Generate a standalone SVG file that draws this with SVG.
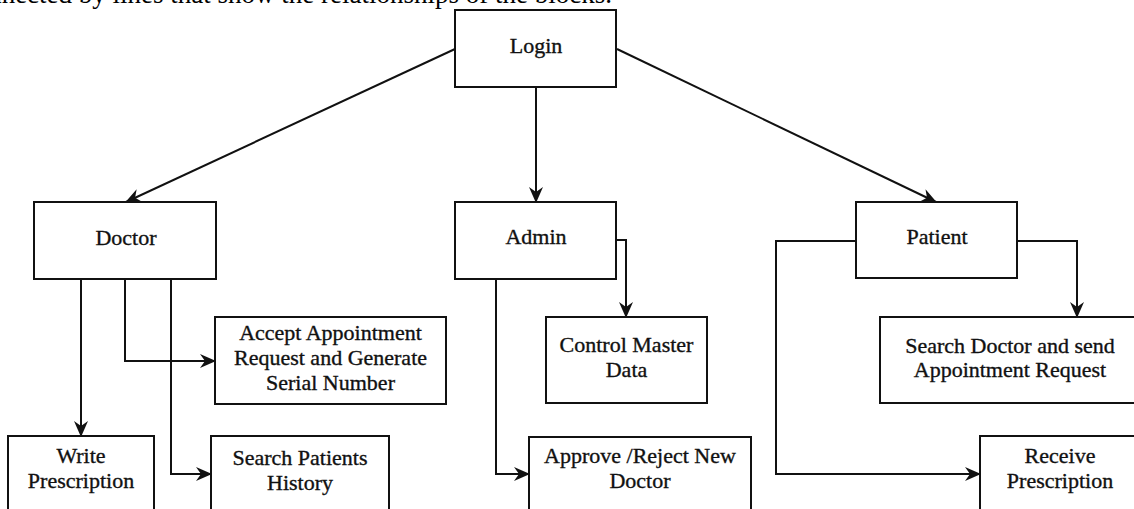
<svg xmlns="http://www.w3.org/2000/svg" width="1134" height="509" viewBox="0 0 1134 509">
  <style>
    .box { fill: #ffffff; stroke: #111111; stroke-width: 2; }
    .lbl { font-family: "Liberation Serif", "Times New Roman", serif; font-size: 22px; fill: #111111; stroke: #111111; stroke-width: 0.35; text-anchor: middle; }
    .edge { fill: none; stroke: #111111; stroke-width: 2; marker-end: url(#arrow); }
    .cap { font-family: "Liberation Serif", "Times New Roman", serif; font-size: 27px; fill: #000000; text-anchor: end; }
  </style>
  <defs>
    <marker id="arrow" markerUnits="userSpaceOnUse" viewBox="0 0 16 16" markerWidth="16" markerHeight="16" refX="15" refY="8" orient="auto">
      <path d="M0,1 L16,8 L0,15 L5,8 z" fill="#111111"/>
    </marker>
  </defs>
  <rect x="0" y="0" width="1134" height="509" fill="#ffffff"/>

  <text class="cap" x="612" y="3">nnected by lines that show the relationships of the blocks.</text>

  <g id="connectors">
    <line class="edge" x1="455" y1="49" x2="126" y2="202"/>
    <line class="edge" x1="536" y1="87" x2="536" y2="202"/>
    <line class="edge" x1="617" y1="49" x2="936" y2="202"/>
    <polyline class="edge" points="81,279 81,436"/>
    <polyline class="edge" points="125,279 125,361 215,361"/>
    <polyline class="edge" points="171,279 171,474 211,474"/>
    <polyline class="edge" points="616,240 626,240 626,317"/>
    <polyline class="edge" points="496,279 496,474 529,474"/>
    <polyline class="edge" points="1017,241 1077,241 1077,317"/>
    <polyline class="edge" points="856,241 776,241 776,474 980,474"/>
  </g>

  <g id="login">
    <rect class="box" x="455" y="10" width="161" height="77"/>
    <text class="lbl" x="536" y="53">Login</text>
  </g>
  <g id="doctor">
    <rect class="box" x="34" y="202" width="182" height="77"/>
    <text class="lbl" x="126" y="245">Doctor</text>
  </g>
  <g id="admin">
    <rect class="box" x="455" y="202" width="161" height="77"/>
    <text class="lbl" x="536" y="244">Admin</text>
  </g>
  <g id="patient">
    <rect class="box" x="856" y="202" width="161" height="76"/>
    <text class="lbl" x="937" y="244">Patient</text>
  </g>
  <g id="accept">
    <rect class="box" x="215" y="317" width="231" height="87"/>
    <text class="lbl" x="330.5" y="340">Accept Appointment</text>
    <text class="lbl" x="330.5" y="365">Request and Generate</text>
    <text class="lbl" x="330.5" y="390">Serial Number</text>
  </g>
  <g id="control">
    <rect class="box" x="546" y="317" width="161" height="86"/>
    <text class="lbl" x="626.5" y="352">Control Master</text>
    <text class="lbl" x="626.5" y="377">Data</text>
  </g>
  <g id="searchdoctor">
    <rect class="box" x="880" y="317" width="270" height="86"/>
    <text class="lbl" x="1010" y="353">Search Doctor and send</text>
    <text class="lbl" x="1010" y="377">Appointment Request</text>
  </g>
  <g id="write">
    <rect class="box" x="8" y="436" width="146" height="90"/>
    <text class="lbl" x="81" y="463">Write</text>
    <text class="lbl" x="81" y="488">Prescription</text>
  </g>
  <g id="searchpatients">
    <rect class="box" x="211" y="436" width="178" height="90"/>
    <text class="lbl" x="300" y="465">Search Patients</text>
    <text class="lbl" x="300" y="490">History</text>
  </g>
  <g id="approve">
    <rect class="box" x="529" y="437" width="222" height="90"/>
    <text class="lbl" x="640" y="463">Approve /Reject New</text>
    <text class="lbl" x="640" y="488">Doctor</text>
  </g>
  <g id="receive">
    <rect class="box" x="980" y="436" width="170" height="90"/>
    <text class="lbl" x="1060" y="463">Receive</text>
    <text class="lbl" x="1060" y="488">Prescription</text>
  </g>
</svg>
